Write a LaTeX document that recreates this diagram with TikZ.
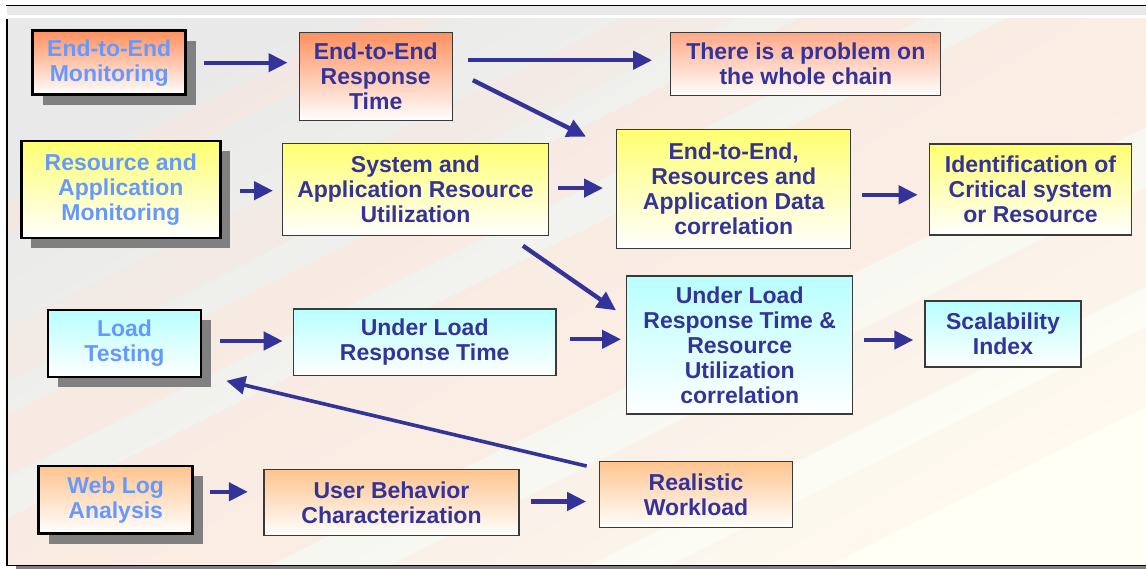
\documentclass[tikz,border=0pt]{standalone}
\usepackage{fontspec}
\setmainfont{Liberation Sans}
\usetikzlibrary{arrows.meta,shadows,calc}

\definecolor{ink}{HTML}{333399}
\definecolor{srcink}{HTML}{6699FF}
\definecolor{arrowblue}{HTML}{333399}
\definecolor{edge}{HTML}{3A3A3A}
\definecolor{shadowgray}{HTML}{808080}
\definecolor{orgA}{HTML}{FF905E}
\definecolor{orgB}{HTML}{FFA886}
\definecolor{orgC}{HTML}{FFC48E}
\definecolor{yelA}{HTML}{FFFF70}
\definecolor{cyaA}{HTML}{B8FFFF}
\definecolor{bgGray}{HTML}{E9E9E9}
\definecolor{bgCream}{HTML}{FFFFF6}
\definecolor{peach}{HTML}{FFE4D6}
\definecolor{bandGray}{HTML}{E8E8E8}

\begin{document}
\begin{tikzpicture}[x=1pt,y=-1pt,
  box/.style={rectangle, inner sep=0pt, align=center,
    font=\fontsize{23}{25}\selectfont\bfseries, text=ink,
    draw=edge, line width=1.3pt, shading angle=45},
  orangebox/.style={box, top color=orgA, bottom color=white},
  salmonbox/.style={box, top color=orgB, bottom color=white},
  paleorangebox/.style={box, top color=orgC, bottom color=white},
  yellowbox/.style={box, top color=yelA, bottom color=white},
  cyanbox/.style={box, top color=cyaA, bottom color=white},
  srcbox/.style={draw=black, line width=2.6pt, text=srcink,
    general shadow={fill=shadowgray, shadow xshift=10pt, shadow yshift=-10pt}},
  arr/.style={draw=arrowblue, line width=4.3pt,
    -{Triangle[length=19pt,width=18pt]}},
]
\useasboundingbox (0,0) rectangle (1146,569);
\fill[white] (0,0) rectangle (1146,569);

% slide frame
\fill[bandGray] (7,6) rectangle (1146,15.5);
\draw[line width=1.4pt] (6,5.5) -- (1146,5.5);
\fill[shadowgray] (16,565) rectangle (1146,569);
\shade[top color=bgGray, bottom color=bgCream, shading angle=30]
  (7.5,19) rectangle (1146,565);
\begin{scope}
  \clip (7.5,19) rectangle (1146,565);
  \foreach \a/\b/\o in {205/240/0.4, 330/385/0.3, 418/480/0.45,
                        522/700/0.45, 760/860/0.3, 900/980/0.2} {
    \fill[peach, opacity=\o] (0,\a) -- (1146,\a-573) -- (1146,\b-573) -- (0,\b) -- cycle;
  }
\end{scope}
\draw[line width=1.4pt] (7,19) -- (7,565.5) -- (1146,565.5);

% boxes
\node[orangebox, srcbox, minimum width=153pt, minimum height=64pt] (n1) at (109.2,62.7) {End-to-End\\Monitoring};
\node[orangebox, minimum width=153pt, minimum height=88pt] (n2) at (375.7,76.7) {End-to-End\\Response\\Time};
\node[salmonbox, minimum width=270pt, minimum height=63pt] (n3) at (805.8,64.2) {There is a problem on\\the whole chain};

\node[yellowbox, srcbox, minimum width=199pt, minimum height=97pt] (n4) at (120.8,189.7) {Resource and\\Application\\Monitoring};
\node[yellowbox, minimum width=265.6pt, minimum height=92pt] (n5) at (415.5,189.6) {System and\\Application Resource\\Utilization};
\node[yellowbox, minimum width=234pt, minimum height=119pt] (n6) at (733.7,188.8) {End-to-End,\\Resources and\\Application Data\\correlation};
\node[yellowbox, minimum width=202.3pt, minimum height=91pt] (n7) at (1030.5,189.5) {Identification of\\Critical system\\or Resource};

\node[cyanbox, srcbox, minimum width=153pt, minimum height=67pt] (n8) at (124.5,343.5) {Load\\Testing};
\node[cyanbox, minimum width=262.7pt, minimum height=66.7pt] (n9) at (424.7,342.3) {Under Load\\Response Time};
\node[cyanbox, minimum width=226pt, minimum height=138pt] (n10) at (739.7,345) {Under Load\\Response Time \&\\Resource\\Utilization\\correlation};
\node[cyanbox, minimum width=156pt, minimum height=66pt] (n11) at (1003,334) {Scalability\\Index};

\node[paleorangebox, srcbox, minimum width=154pt, minimum height=67.7pt] (n12) at (115.7,499.8) {Web Log\\Analysis};
\node[paleorangebox, minimum width=255pt, minimum height=66.5pt] (n13) at (391.5,502.5) {User Behavior\\Characterization};
\node[paleorangebox, minimum width=193.4pt, minimum height=66pt] (n14) at (696,494.7) {Realistic\\Workload};

% connectors
\draw[arr, shorten <=17pt, shorten >=11pt] (n1.east) -- (n1.east -| n2.west);
\draw[arr, shorten <=15pt, shorten >=18pt] ($(n2.east |- n3.west)+(0,-4)$) -- ($(n3.west)+(0,-4)$);
\draw[arr] ($(n2.east)+(20,3.5)$) -- ($(n6.north west)+(-30,8)$);

\draw[arr, shorten <=18pt, shorten >=9pt] ($(n4.east)+(0,1)$) -- ($(n4.east -| n5.west)+(0,1)$);
\draw[arr, shorten <=9pt, shorten >=13pt] ($(n5.east)+(0,-1.5)$) -- ($(n5.east -| n6.west)+(0,-1.5)$);
\draw[arr, shorten <=11pt, shorten >=11pt] ($(n6.east)+(0,6)$) -- ($(n6.east -| n7.west)+(0,6)$);
\draw[arr] ($(n5.south east)+(-26,9.5)$) -- ($(n10.north west)+(-10,35)$);

\draw[arr, shorten <=18pt, shorten >=10pt] ($(n8.east)+(0,-2.5)$) -- ($(n8.east -| n9.west)+(0,-2.5)$);
\draw[arr, shorten <=13pt, shorten >=5pt] ($(n9.east)+(0,-3)$) -- ($(n9.east -| n10.west)+(0,-3)$);
\draw[arr, shorten <=11pt, shorten >=11pt] ($(n10.east)+(0,-5)$) -- ($(n10.east -| n11.west)+(0,-5)$);

\draw[arr, shorten <=15.5pt, shorten >=15.5pt] ($(n12.east)+(0,-8)$) -- ($(n12.east -| n13.west)+(0,-8)$);
\draw[arr, shorten <=11.5pt, shorten >=12.5pt] ($(n13.east)+(0,-1)$) -- ($(n13.east -| n14.west)+(0,-1)$);
\draw[arr, line width=3.6pt] ($(n14.north west)+(-12,5)$) -- ($(n8.south east)+(24,2.5)$);
\end{tikzpicture}
\end{document}
